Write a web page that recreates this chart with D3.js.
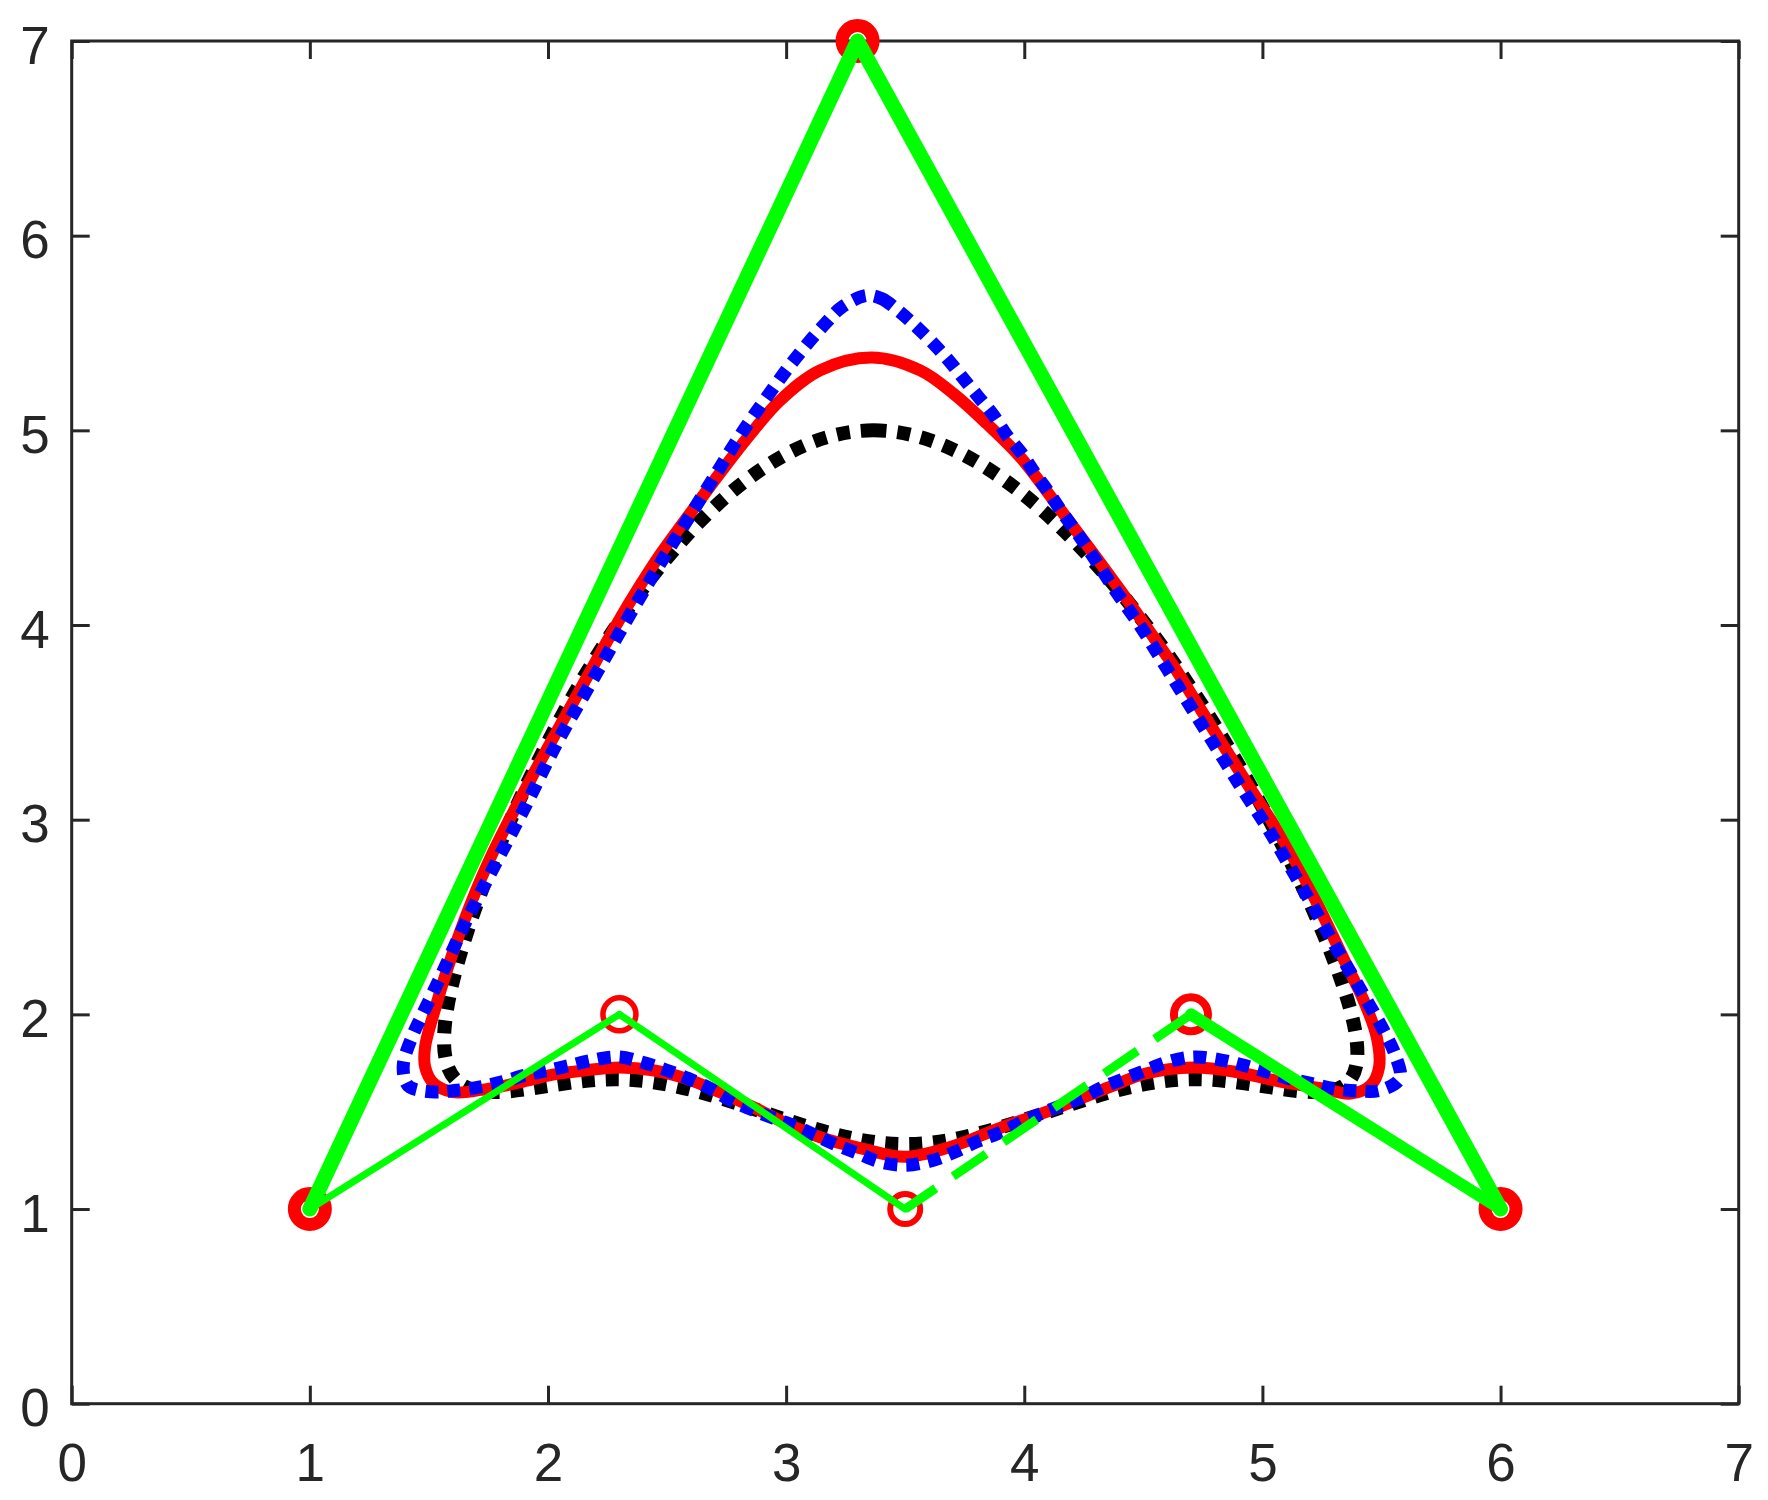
<!DOCTYPE html>
<html>
<head>
<meta charset="utf-8">
<script src="https://cdn.jsdelivr.net/npm/d3@7"></script>
<style>
body { margin: 0; background: #fff; }
.tick text { font-family: "Liberation Sans", Arial, Helvetica, sans-serif; }
</style>
</head>
<body>
<div id="chart-area"></div>
<script>
// control polygon (P0..P5, closed)
const ctrlX = [1, 3.3, 6, 4.7, 3.5, 2.3]
const ctrlY = [1, 7, 1, 2, 1, 2]

// red solid curve
const redCurve = [
	[3.36, 5.374], [3.563, 5.308], [3.703, 5.188], [3.843, 5.034], [3.983, 4.863], [4.123, 4.640],
	[4.27, 4.400], [4.42, 4.150], [4.53, 3.960], [4.634, 3.776], [4.739, 3.570], [4.844, 3.365],
	[4.949, 3.160], [5.054, 2.962], [5.155, 2.750], [5.25, 2.520], [5.343, 2.280], [5.425, 2.072],
	[5.48, 1.884], [5.49, 1.730], [5.455, 1.636], [5.37, 1.593], [5.25, 1.620], [5.08, 1.653],
	[4.89, 1.704], [4.71, 1.727], [4.51, 1.696], [4.36, 1.627], [4.11, 1.507], [3.91, 1.422],
	[3.69, 1.319], [3.50, 1.268], [3.32, 1.310], [3.14, 1.370], [3.00, 1.439], [2.86, 1.524],
	[2.72, 1.601], [2.58, 1.670], [2.44, 1.713], [2.30, 1.727], [2.16, 1.713], [2.02, 1.690],
	[1.88, 1.650], [1.72, 1.612], [1.60, 1.601], [1.52, 1.645], [1.484, 1.730], [1.484, 1.833],
	[1.52, 2.004], [1.58, 2.243], [1.67, 2.551], [1.77, 2.835], [1.94, 3.237], [2.11, 3.613],
	[2.29, 4.007], [2.38, 4.190], [2.47, 4.360], [2.58, 4.545], [2.72, 4.777], [2.863, 5.000],
	[2.975, 5.154], [3.142, 5.308]
]

// blue dotted curve
const blueCurve = [
	[3.339, 5.693], [3.402, 5.676], [3.479, 5.607], [3.549, 5.530], [3.619, 5.445], [3.689, 5.350],
	[3.745, 5.265], [3.808, 5.171], [3.871, 5.077], [3.927, 4.974], [3.990, 4.880], [4.046, 4.777],
	[4.102, 4.683], [4.158, 4.580], [4.214, 4.486], [4.275, 4.378], [4.382, 4.178], [4.494, 3.981],
	[4.599, 3.776], [4.704, 3.570], [4.809, 3.365], [4.914, 3.160], [5.019, 2.962], [5.120, 2.750],
	[5.222, 2.535], [5.320, 2.320], [5.418, 2.115], [5.516, 1.901], [5.558, 1.790], [5.577, 1.670],
	[5.495, 1.610], [5.397, 1.607], [5.299, 1.619], [5.208, 1.644], [5.111, 1.670], [5.021, 1.704],
	[4.923, 1.738], [4.833, 1.764], [4.714, 1.781], [4.601, 1.755], [4.511, 1.713], [4.421, 1.670],
	[4.331, 1.627], [4.248, 1.576], [4.159, 1.533], [4.069, 1.490], [3.978, 1.439], [3.889, 1.388],
	[3.799, 1.345], [3.708, 1.293], [3.618, 1.251], [3.506, 1.225], [3.393, 1.242], [3.304, 1.285],
	[3.213, 1.328], [3.122, 1.379], [3.040, 1.425], [2.950, 1.465], [2.863, 1.507], [2.765, 1.559],
	[2.681, 1.619], [2.590, 1.670], [2.499, 1.713], [2.408, 1.750], [2.296, 1.781], [2.184, 1.764],
	[2.093, 1.738], [2.002, 1.713], [1.904, 1.687], [1.807, 1.653], [1.715, 1.627], [1.617, 1.610],
	[1.526, 1.601], [1.421, 1.625], [1.400, 1.660], [1.393, 1.747], [1.429, 1.884], [1.471, 1.995],
	[1.555, 2.209], [1.638, 2.432], [1.729, 2.654], [1.820, 2.868], [1.911, 3.083], [2.044, 3.408],
	[2.191, 3.725], [2.338, 4.041], [2.492, 4.358], [2.597, 4.563], [2.702, 4.769], [2.807, 4.974],
	[2.919, 5.171], [3.038, 5.368], [3.164, 5.548], [3.234, 5.633]
]

const xTicks = [0, 1, 2, 3, 4, 5, 6, 7]
const yTicks = [0, 1, 2, 3, 4, 5, 6, 7]

// styles (kept apart from the data)
const markerR = [15.5, 15.5, 15.5, 17, 15, 16.5]
const markerW = [13, 13, 13, 8, 6, 5.5]
const AXIS_COLOR = "#262626"

const MARGIN = { LEFT: 71.7, RIGHT: 29.3, TOP: 41, BOTTOM: 96.3 }
const WIDTH = 1768 - MARGIN.LEFT - MARGIN.RIGHT
const HEIGHT = 1500 - MARGIN.TOP - MARGIN.BOTTOM

const svg = d3.select("#chart-area").append("svg")
	.attr("width", 1768)
	.attr("height", 1500)
	.style("display", "block")

svg.append("rect").attr("width", 1768).attr("height", 1500).attr("fill", "#fff")

const g = svg.append("g")
	.attr("transform", `translate(${MARGIN.LEFT}, ${MARGIN.TOP})`)

// scales
const x = d3.scaleLinear().domain([0, 7]).range([0, WIDTH])
const y = d3.scaleLinear().domain([0, 7]).range([HEIGHT, 0])

// axes, ticks pointing inward on all four sides
function styleAxis(sel) {
	sel.select(".domain").remove()
	sel.selectAll(".tick line").attr("stroke", AXIS_COLOR).attr("stroke-width", 3)
	sel.selectAll(".tick text").attr("fill", AXIS_COLOR).style("font-size", "53px")
}

g.append("g")
	.attr("transform", `translate(0, ${HEIGHT})`)
	.call(d3.axisBottom(x).tickValues(xTicks).tickFormat(d3.format("d"))
		.tickSizeInner(-18).tickSizeOuter(0).tickPadding(40))
	.call(styleAxis)

g.append("g")
	.call(d3.axisLeft(y).tickValues(yTicks).tickFormat(d3.format("d"))
		.tickSizeInner(-18).tickSizeOuter(0).tickPadding(22))
	.call(styleAxis)
	.selectAll(".tick text").attr("dy", "0.42em")

g.append("g")
	.call(d3.axisTop(x).tickValues(xTicks).tickFormat("").tickSizeInner(-18).tickSizeOuter(0))
	.call(styleAxis)

g.append("g")
	.attr("transform", `translate(${WIDTH}, 0)`)
	.call(d3.axisRight(y).tickValues(yTicks).tickFormat("").tickSizeInner(-18).tickSizeOuter(0))
	.call(styleAxis)

g.append("rect")
	.attr("width", WIDTH)
	.attr("height", HEIGHT)
	.attr("fill", "none")
	.attr("stroke", AXIS_COLOR)
	.attr("stroke-width", 3)

// line generator
const line = d3.line()
	.x(d => x(d[0]))
	.y(d => y(d[1]))

const ctrl = d3.zip(ctrlX, ctrlY)

// black dotted: closed uniform B-spline on the control points
g.append("path")
	.attr("fill", "none")
	.attr("stroke", "#000")
	.attr("stroke-width", 14)
	.attr("stroke-dasharray", "13,11")
	.attr("d", line.curve(d3.curveBasisClosed)(ctrl))

// red solid
g.append("path")
	.attr("fill", "none")
	.attr("stroke", "#ff0000")
	.attr("stroke-width", 12)
	.attr("stroke-linejoin", "round")
	.attr("d", line.curve(d3.curveCatmullRomClosed.alpha(0.5))(redCurve))

// blue dotted
g.append("path")
	.attr("fill", "none")
	.attr("stroke", "#0000ff")
	.attr("stroke-width", 13)
	.attr("stroke-dasharray", "13,9")
	.attr("d", line.curve(d3.curveCatmullRomClosed.alpha(0.5))(blueCurve))

// control point markers
g.selectAll(".marker")
	.data(ctrl)
	.enter().append("circle")
	.attr("class", "marker")
	.attr("cx", d => x(d[0]))
	.attr("cy", d => y(d[1]))
	.attr("r", (d, i) => markerR[i])
	.attr("fill", "none")
	.attr("stroke", "#ff0000")
	.attr("stroke-width", (d, i) => markerW[i])

// control polygon in green
const straight = line.curve(d3.curveLinear)
const polySegs = [
	{ idx: [0, 1, 2], w: 15 },
	{ idx: [2, 3], w: 12 },
	{ idx: [4, 3], w: 9, dash: "40,21", offset: 3 },
	{ idx: [4, 5], w: 7 },
	{ idx: [5, 0], w: 7 }
]
polySegs.forEach(s => {
	g.append("path")
		.attr("fill", "none")
		.attr("stroke", "#00ff00")
		.attr("stroke-width", s.w)
		.attr("stroke-linejoin", "round")
		.attr("stroke-linecap", s.dash ? "butt" : "round")
		.attr("stroke-dasharray", s.dash || null)
		.attr("stroke-dashoffset", s.offset || null)
		.attr("d", straight(s.idx.map(i => ctrl[i])))
})
</script>
</body>
</html>
